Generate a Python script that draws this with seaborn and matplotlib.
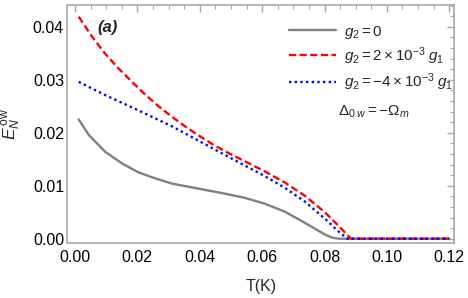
import numpy as np
import pandas as pd
import matplotlib
matplotlib.use("Agg")
import matplotlib.pyplot as plt
from matplotlib.ticker import MultipleLocator
import seaborn as sns

# temperature (K) and entanglement values
T_gray = [0.0012, 0.0044, 0.0097, 0.0151, 0.0204, 0.0257, 0.0311, 0.0418, 0.0481,
          0.0545, 0.0609, 0.0673, 0.0737, 0.0801, 0.0825, 0.0845, 0.1200]
E_gray = [0.0225, 0.0196, 0.0164, 0.0142, 0.0125, 0.0114, 0.0104, 0.0092, 0.0085,
          0.0077, 0.0066, 0.0051, 0.0030, 0.0008, 0.0002, 0.0, 0.0]

T_red = [0.0012, 0.0055, 0.0097, 0.0140, 0.0183, 0.0225, 0.0268, 0.0311, 0.0353,
         0.0396, 0.0439, 0.0481, 0.0545, 0.0609, 0.0673, 0.0737, 0.0801, 0.0844,
         0.0870, 0.0885, 0.1200]
E_red = [0.0419, 0.0381, 0.0349, 0.0321, 0.0296, 0.0272, 0.0250, 0.0230, 0.0212,
         0.0195, 0.0179, 0.0165, 0.0146, 0.0127, 0.0106, 0.0081, 0.0050, 0.0025,
         0.0009, 0.0, 0.0]

T_blue = [0.0012, 0.0097, 0.0204, 0.0311, 0.0418, 0.0481, 0.0545, 0.0609, 0.0673,
          0.0737, 0.0801, 0.0844, 0.0874, 0.1200]
E_blue = [0.0296, 0.0271, 0.0242, 0.0212, 0.0178, 0.0158, 0.0138, 0.0118, 0.0096,
          0.0070, 0.0038, 0.0014, 0.0, 0.0]

labels = [r"$g_2=0$",
          r"$g_2=2\times10^{-3}\;g_1$",
          r"$g_2=-4\times10^{-3}\;g_1$"]

sns.set_style("white")
plt.rcParams["font.family"] = ["Liberation Sans", "DejaVu Sans"]
plt.rcParams["mathtext.fontset"] = "custom"
plt.rcParams["mathtext.rm"] = "Liberation Sans"
plt.rcParams["mathtext.it"] = "Liberation Sans:italic"
plt.rcParams["mathtext.bf"] = "Liberation Sans:bold"

frame = "#a8a8a8"
fs = 11.5

fig = plt.figure(figsize=(4.68, 2.98), dpi=100)
ax = fig.add_axes([0.1442, 0.1856, 0.8258, 0.7976])

sns.lineplot(x=T_gray, y=E_gray, ax=ax, color="#808080", lw=1.7, label=labels[0])
sns.lineplot(x=T_red, y=E_red, ax=ax, color="#ff0000", lw=1.7,
             label=labels[1]).lines[-1].set_dashes([3.0, 1.5])
sns.lineplot(x=T_blue, y=E_blue, ax=ax, color="#0000ff", lw=1.7,
             label=labels[2]).lines[-1].set_dashes([1.0, 1.4])

ax.set_xlim(-0.0024, 0.1215)
ax.set_ylim(-0.00075, 0.0441)
ax.xaxis.set_major_locator(MultipleLocator(0.02))
ax.xaxis.set_minor_locator(MultipleLocator(0.005))
ax.yaxis.set_major_locator(MultipleLocator(0.01))
ax.yaxis.set_minor_locator(MultipleLocator(0.002))
ax.xaxis.set_major_formatter(plt.FuncFormatter(lambda v, p: f"{v:.2f}"))
ax.yaxis.set_major_formatter(plt.FuncFormatter(lambda v, p: f"{v:.2f}"))

ax.tick_params(which="both", direction="in", top=True, right=True,
               color=frame, labelsize=fs, labelcolor="black")
ax.tick_params(axis="x", which="both", pad=5)
ax.tick_params(axis="y", which="both", pad=2.5)
ax.tick_params(which="major", length=5, width=1)
ax.tick_params(which="minor", length=3, width=0.8)
for s in ax.spines.values():
    s.set_color(frame)
    s.set_linewidth(1.2)

ax.set_xlabel("T(K)", fontsize=fs, labelpad=10)
ax.set_ylabel(r"$E_N^{\,\mathrm{ow}}$", fontsize=12.5, labelpad=7)

ax.text(0.1035, 0.905, "(a)", transform=ax.transAxes, fontsize=12,
        fontweight="bold", fontstyle="italic", va="center", ha="center")

leg = ax.legend(loc="upper left", bbox_to_anchor=(0.566, 0.935), frameon=False,
                fontsize=11, handlelength=3.07, handletextpad=0.53,
                labelspacing=0.3, borderpad=0.2, borderaxespad=0)
ax.text(0.70, 0.55, r"$\Delta_{0\;w}=-\Omega_m$", transform=ax.transAxes,
        fontsize=11, va="center", ha="left")

fig.savefig("out.png", dpi=100)
